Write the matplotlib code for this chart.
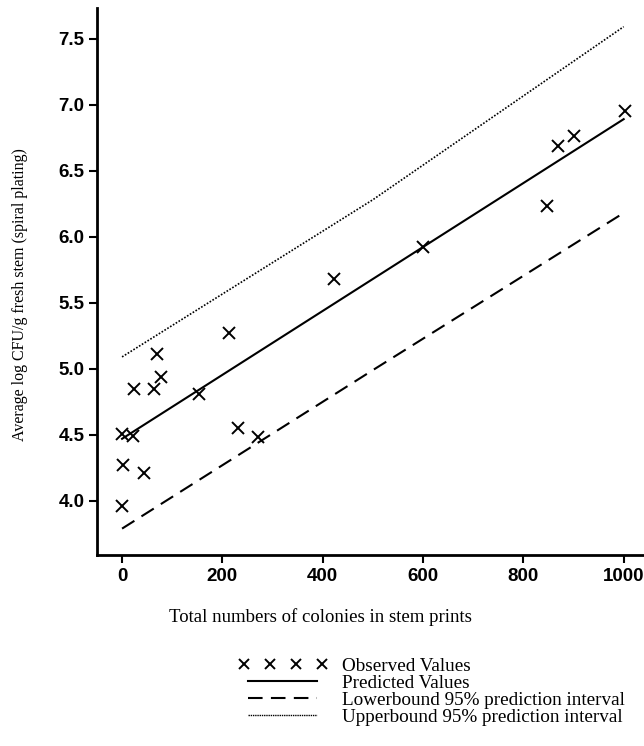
import numpy as np
import matplotlib
matplotlib.use("Agg")
import matplotlib.pyplot as plt
from matplotlib.lines import Line2D
from matplotlib.legend_handler import HandlerLine2D

# observed points
obs_x = [0, 2, 0, 22, 43, 24, 64, 69, 78, 153, 214, 231, 270, 422, 600, 847, 869, 900, 1002]
obs_y = [3.96, 4.27, 4.51, 4.49, 4.21, 4.85, 4.85, 5.11, 4.94, 4.81, 5.27, 4.55, 4.48,
         5.68, 5.92, 6.23, 6.69, 6.76, 6.95]

# fitted line and 95% prediction bounds
fit_x = [0, 500, 1000]
pred_y = [4.47, 5.68, 6.89]
lower_y = [3.79, 4.99, 6.18]
upper_y = [5.09, 6.28, 7.59]

serif = ['Liberation Serif', 'DejaVu Serif']
tickfont = ['Liberation Sans', 'DejaVu Sans']

fig = plt.figure(figsize=(6.44, 7.46), dpi=100)
ax = fig.add_axes([0.1506, 0.256, 0.849, 0.733])

ax.plot(fit_x, upper_y, color='black', lw=1.2, ls=(0, (1, 1)))
ax.plot(fit_x, pred_y, color='black', lw=1.5, ls='-')
ax.plot(fit_x, lower_y, color='black', lw=1.5, ls=(0, (7, 4)))
ax.plot(obs_x, obs_y, ls='none', marker='x', ms=8, mew=1.4, color='black')

ax.set_xlim(-50, 1040)
ax.set_ylim(3.59, 7.73)
ax.set_xticks([0, 200, 400, 600, 800, 1000])
ax.set_yticks([4.0, 4.5, 5.0, 5.5, 6.0, 6.5, 7.0, 7.5])
ax.set_yticklabels(['4.0', '4.5', '5.0', '5.5', '6.0', '6.5', '7.0', '7.5'])

for s in ['top', 'right']:
    ax.spines[s].set_visible(False)
for s in ['left', 'bottom']:
    ax.spines[s].set_linewidth(2)
ax.tick_params(direction='out', length=6, width=1.5, pad=3)
for lab in ax.get_xticklabels() + ax.get_yticklabels():
    lab.set_family(tickfont)
    lab.set_fontweight('bold')
    lab.set_fontsize(13.5)

ax.set_xlabel('Total numbers of colonies in stem prints', family=serif, fontsize=13.5)
ax.set_ylabel('Average log CFU/g fresh stem (spiral plating)', family=serif, fontsize=11.5)
ax.xaxis.set_label_coords(0.408, -0.098)
ax.yaxis.set_label_coords(-0.126, 0.477)

handles = [
    Line2D([], [], ls='none', marker='x', ms=7.5, mew=1.4, color='black'),
    Line2D([], [], color='black', lw=1.5),
    Line2D([], [], color='black', lw=1.5, ls=(0, (7, 4))),
    Line2D([], [], color='black', lw=1.0, ls=(0, (1, 0.6))),
]
labels = ['Observed Values', 'Predicted Values',
          'Lowerbound 95% prediction interval', 'Upperbound 95% prediction interval']
fig.legend(handles, labels, loc='upper left', bbox_to_anchor=(0.362, 0.132),
           frameon=False, numpoints=4, handlelength=4.2, handletextpad=1.0,
           labelspacing=-0.02, borderpad=0, prop={'family': serif, 'size': 13.8},
           handler_map={handles[0]: HandlerLine2D(marker_pad=0.05, numpoints=4)})

fig.savefig('out.png', dpi=100)
